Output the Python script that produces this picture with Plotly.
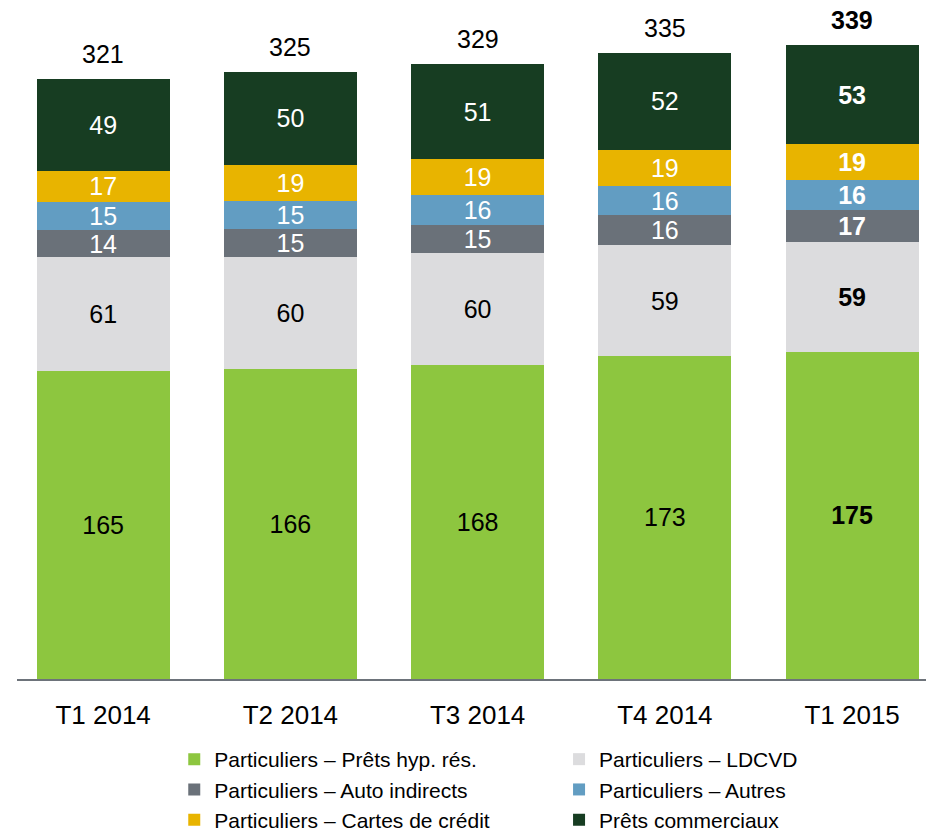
import plotly.graph_objects as go

periods = ["T1 2014", "T2 2014", "T3 2014", "T4 2014", "T1 2015"]

series_names = [
    "Particuliers – Prêts hyp. rés.",
    "Particuliers – LDCVD",
    "Particuliers – Auto indirects",
    "Particuliers – Autres",
    "Particuliers – Cartes de crédit",
    "Prêts commerciaux",
]
hyp = [165, 166, 168, 173, 175]
ldcvd = [61, 60, 60, 59, 59]
auto = [14, 15, 15, 16, 17]
autres = [15, 15, 16, 16, 16]
cartes = [17, 19, 19, 19, 19]
commerciaux = [49, 50, 51, 52, 53]
totals = [321, 325, 329, 335, 339]

series_values = [hyp, ldcvd, auto, autres, cartes, commerciaux]
colors = ["#8DC63F", "#DCDCDE", "#6A7179", "#629DC2", "#E8B400", "#173D22"]
text_colors = ["black", "black", "white", "white", "white", "white"]
# left column of the legend / right column of the legend
legend_ids = ["legend", "legend2", "legend", "legend2", "legend", "legend2"]

FONT = "Liberation Sans, Arial"

fig = go.Figure()

for name, vals, col, tcol, leg in zip(series_names, series_values, colors,
                                       text_colors, legend_ids):
    labels = [str(v) for v in vals]
    labels[-1] = "<b>%s</b>" % labels[-1]
    fig.add_trace(
        go.Bar(
            x=periods,
            y=vals,
            name=name,
            legend=leg,
            marker=dict(color=col, line=dict(width=0)),
            text=labels,
            textposition="inside",
            insidetextanchor="middle",
            textangle=0,
            textfont=dict(size=25, color=tcol, family=FONT),
            hoverinfo="skip",
        )
    )

for i, (p, t) in enumerate(zip(periods, totals)):
    label = "<b>%d</b>" % t if i == len(periods) - 1 else str(t)
    fig.add_annotation(
        x=p, y=t, text=label, showarrow=False,
        yanchor="bottom", yshift=9,
        font=dict(size=25, color="black", family=FONT),
    )

leg_common = dict(
    orientation="v",
    traceorder="normal",
    yanchor="top", xanchor="left",
    y=-0.09,
    font=dict(size=21, family=FONT, color="black"),
    bgcolor="rgba(0,0,0,0)",
    itemwidth=30,
)

fig.update_layout(
    barmode="stack",
    bargap=0.29,
    width=934,
    height=832,
    margin=dict(l=9, r=0, t=0, b=157),
    plot_bgcolor="white",
    paper_bgcolor="white",
    font=dict(family=FONT, size=20, color="black"),
    uniformtext=dict(mode="show", minsize=25),
    showlegend=True,
    legend=dict(x=0.170, **leg_common),
    legend2=dict(x=0.586, **leg_common),
    xaxis=dict(
        range=[-0.46, 4.48],
        showline=True, linecolor="#6D737A", linewidth=2,
        showgrid=False, ticks="", ticklabelstandoff=12,
        tickfont=dict(size=26),
    ),
    yaxis=dict(range=[0, 359], visible=False, showgrid=False),
)

fig.write_html("out.html")
